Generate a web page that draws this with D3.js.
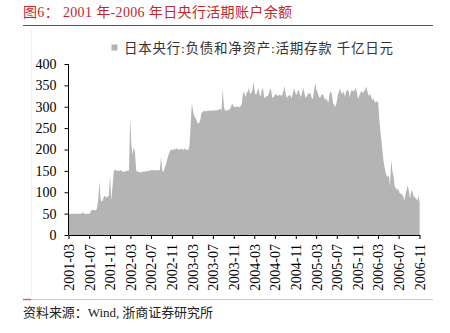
<!DOCTYPE html>
<html><head><meta charset="utf-8">
<script src="https://cdn.jsdelivr.net/npm/d3@7"></script>
<style>
html,body{margin:0;padding:0;background:#fff;}
svg{display:block;}
</style></head>
<body>
<svg id="chart" width="450" height="333"></svg>
<script>
// Weekly values (千亿日元), first week starting 2001-03-01
const weeks2001 = [50,50,49,50,50,49,50,50,50,50,50,50,53,50,50,49,50,50,50,
  58,58,59,58,58,62,80,125,85,78,82,92,90,88,90,92,140,82,110,145,154,152,150,151,150];
const weeks2002 = [152,150,148,147,150,150,150,152,275,210,187,205,195,152,148,148,147,146,148,148,149,148,150,150,150,151,
  152,152,151,152,151,152,151,152,183,150,148,155,165,175,185,193,198,200,198,202,200,203,201,199,202,200];
const weeks2003 = [201,199,203,200,199,198,210,260,308,290,277,275,268,261,262,268,285,288,290,290,289,291,290,292,290,291,
  292,290,293,291,292,294,295,292,343,300,291,292,291,293,295,300,308,302,299,300,300,301,298,302,305,330];
const weeks2004 = [335,322,331,335,343,330,332,340,359,335,327,335,345,330,323,340,343,320,322,325,325,333,343,335,320,323,
  328,330,325,327,328,327,325,335,349,330,320,325,327,327,320,330,343,335,327,335,340,330,322,335,343,330];
const weeks2005 = [320,325,332,330,332,320,318,340,355,340,332,325,320,327,330,327,315,320,315,308,330,337,330,308,304,300,
  310,328,335,343,332,330,337,322,335,340,337,322,335,340,335,338,343,335,318,325,332,337,332,335,340,347];
const weeks2006 = [335,325,330,325,315,320,312,310,312,312,270,240,215,185,165,150,140,135,140,113,175,150,136,113,110,105,
  108,98,97,95,92,80,95,105,117,100,85,105,100,90,88,85,80,92,75];
const tickLabels = ["2001-03","2001-07","2001-11","2002-03","2002-07","2002-11","2003-03","2003-07","2003-11",
  "2004-03","2004-07","2004-11","2005-03","2005-07","2005-11","2006-03","2006-07","2006-11"];
const yTicks = [0,50,100,150,200,250,300,350,400];
const seriesName = "日本央行:负债和净资产:活期存款 千亿日元";
const titleText = "图6： 2001 年-2006 年日央行活期账户余额";
const sourceText = "资料来源：Wind, 浙商证券研究所";

const values = [].concat(weeks2001, weeks2002, weeks2003, weeks2004, weeks2005, weeks2006);
const start = new Date(2001, 2, 1);
const data = values.map((v, i) => ({date: d3.timeDay.offset(start, 7 * i), value: v}));

const parseM = d3.timeParse("%Y-%m");
const fmtM = d3.timeFormat("%Y-%m");
const tickDates = tickLabels.map(parseM);

const svg = d3.select("#chart");
const serif = "'Liberation Serif','Times New Roman','Noto Sans CJK SC',serif";
const red = "#c1272d";

const x = d3.scaleTime().domain([tickDates[0], tickDates[tickDates.length - 1]]).range([68.5, 419.5]);
const y = d3.scaleLinear().domain([0, 400]).range([235, 64]);

// frame bits
svg.append("line").attr("x1", 31.5).attr("x2", 31.5).attr("y1", 30).attr("y2", 296)
  .attr("stroke", "#efefef").attr("stroke-width", 1);

svg.append("text").attr("x", 23).attr("y", 17)
  .attr("font-family", serif).attr("font-size", 14).attr("fill", red)
  .attr("textLength", 269).attr("lengthAdjust", "spacing")
  .text(titleText);
svg.append("line").attr("x1", 23).attr("x2", 433).attr("y1", 25.5).attr("y2", 25.5)
  .attr("stroke", red).attr("stroke-width", 1);

// legend
svg.append("rect").attr("x", 111.5).attr("y", 44.5).attr("width", 6).attr("height", 6).attr("fill", "#b4b4b4");
svg.append("text").attr("x", 124).attr("y", 53)
  .attr("font-family", serif).attr("font-size", 13.5).attr("fill", "#333")
  .attr("textLength", 269).attr("lengthAdjust", "spacing")
  .text(seriesName);

// area
const area = d3.area().x(d => x(d.date)).y0(y(0)).y1(d => y(d.value)).curve(d3.curveLinear);
svg.append("path").datum(data).attr("d", area).attr("fill", "#b4b4b4");

// y axis
const gy = svg.append("g").attr("transform", "translate(68.5,0)")
  .call(d3.axisLeft(y).tickValues(yTicks).tickSize(4).tickPadding(8));
gy.selectAll("text").attr("font-family", serif).attr("font-size", 14).attr("fill", "#000");
gy.selectAll("line,path").attr("stroke", "#000");
gy.select(".domain").attr("d", "M0,64V235");

// x axis
const gx = svg.append("g").attr("transform", "translate(0,235)")
  .call(d3.axisBottom(x).tickValues(tickDates).tickFormat(fmtM).tickSize(4).tickSizeOuter(0));
gx.selectAll("line,path").attr("stroke", "#000");
gx.selectAll("text")
  .attr("font-family", serif).attr("font-size", 14).attr("fill", "#000")
  .attr("transform", "rotate(-90)").attr("x", -9).attr("y", 0).attr("dy", "0.35em")
  .style("text-anchor", "end");

// bottom rule and source
svg.append("line").attr("x1", 23).attr("x2", 433).attr("y1", 299.5).attr("y2", 299.5)
  .attr("stroke", "#f3b9b9").attr("stroke-width", 1);
svg.append("line").attr("x1", 23).attr("x2", 31).attr("y1", 299.5).attr("y2", 299.5)
  .attr("stroke", "#e06060").attr("stroke-width", 1.5);
svg.append("text").attr("x", 23).attr("y", 317)
  .attr("font-family", serif).attr("font-size", 13).attr("fill", "#222")
  .attr("textLength", 190).attr("lengthAdjust", "spacing")
  .text(sourceText);
</script>
</body></html>
